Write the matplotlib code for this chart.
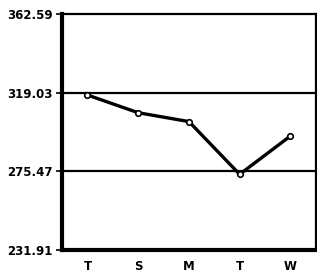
import numpy as np
import matplotlib
matplotlib.use("Agg")
import matplotlib.pyplot as plt

days = ["T", "S", "M", "T", "W"]
values = [317.7, 307.9, 303.0, 273.8, 295.0]
ymin = 231.91
ymax = 362.59

fig = plt.figure(figsize=(3.17, 2.79), dpi=100)
ax = fig.add_axes([0.196, 0.104, 0.8, 0.846])

yticks = np.linspace(ymin, ymax, 4)
for yv in yticks[1:3]:
    ax.axhline(yv, color="black", lw=1.6, zorder=1)

x = np.arange(len(days))
ax.plot(x, values, color="black", lw=2.4, marker="o", markersize=4,
        markerfacecolor="white", markeredgecolor="black", markeredgewidth=1.2, zorder=3)

ax.set_xlim(-0.5, len(days) - 0.5)
ax.set_ylim(ymin, ymax)
ax.set_xticks(x)
ax.set_xticklabels(days)
ax.set_yticks(yticks)
ax.set_yticklabels(["%.2f" % v for v in yticks])

for s in ax.spines.values():
    s.set_linewidth(1.6)
ax.spines["left"].set_linewidth(3)
ax.spines["bottom"].set_linewidth(3)

ax.tick_params(axis="y", length=4, width=1.2, pad=3)
ax.tick_params(axis="x", length=0, pad=7)
for lab in ax.get_xticklabels() + ax.get_yticklabels():
    lab.set_fontweight("heavy")
    lab.set_fontsize(8.5)

fig.savefig("out.png", dpi=100)
